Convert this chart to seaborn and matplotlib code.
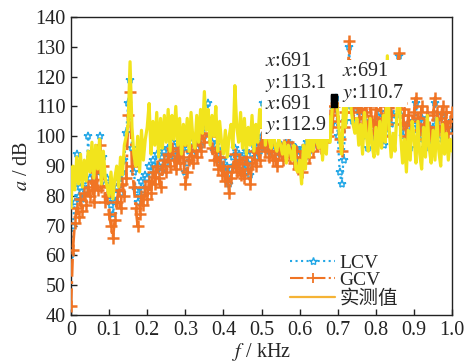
import numpy as np
import pandas as pd
import matplotlib
matplotlib.use("Agg")
import matplotlib.pyplot as plt
from matplotlib.lines import Line2D
import seaborn as sns

# Frequency grid in Hz (5 Hz spacing, 0-1000 Hz)
freq_hz = list(range(0, 1001, 5))

# LCV-fitted spectrum level, dB
lcv_db = [
    60, 70, 78, 94, 80, 83, 79, 85, 82, 100,
    86, 90, 84, 92, 88, 100, 89, 93, 84, 86,
    80, 77, 74, 78, 83, 86, 81, 88, 92, 101,
    111, 119, 96, 88, 82, 78, 80, 85, 82, 87,
    86, 90, 87, 92, 89, 94, 90, 88, 93, 95,
    91, 96, 93, 98, 95, 92, 97, 94, 99, 96,
    88, 91, 95, 98, 94, 99, 96, 101, 97, 103,
    100, 106, 111, 103, 98, 95, 97, 92, 95, 90,
    92, 88, 90, 84, 89, 93, 96, 91, 94, 90,
    93, 89, 95, 91, 87, 94, 97, 93, 98, 95,
    100, 111, 97, 101, 95, 99, 94, 97, 93, 96,
    97, 94, 113, 96, 99, 95, 97, 93, 96, 91,
    95, 90, 96, 93, 98, 95, 100, 97, 102, 99,
    101, 97, 103, 99, 104, 101, 106, 104, 109, 113,
    100, 88, 84, 92, 105, 113, 130, 110, 105, 109,
    110, 103, 107, 100, 108, 104, 96, 105, 101, 98,
    105, 100, 108, 103, 97, 106, 101, 109, 104, 107,
    111, 117, 127, 107, 100, 104, 97, 103, 96, 101,
    105, 111, 103, 99, 106, 101, 96, 104, 100, 97,
    103, 111, 105, 99, 102, 107, 100, 104, 98, 102, 105,
]

# GCV-fitted spectrum level, dB
gcv_db = [
    43, 62, 71, 76, 73, 79, 75, 81, 77, 83,
    80, 85, 78, 88, 82, 97, 83, 90, 78, 80,
    74, 70, 66, 72, 78, 82, 76, 84, 80, 86,
    107, 115, 90, 83, 76, 70, 74, 80, 77, 83,
    79, 85, 81, 88, 84, 90, 86, 83, 89, 92,
    88, 94, 90, 96, 92, 89, 95, 91, 97, 93,
    84, 88, 92, 95, 91, 97, 93, 99, 95, 101,
    98, 104, 106, 100, 96, 92, 95, 89, 93, 87,
    90, 85, 88, 81, 86, 90, 94, 88, 92, 87,
    91, 86, 93, 89, 84, 91, 95, 90, 96, 92,
    98, 103, 95, 99, 93, 97, 92, 95, 90, 94,
    96, 92, 97, 94, 98, 93, 96, 91, 95, 89,
    93, 88, 95, 91, 97, 93, 99, 95, 101, 97,
    100, 96, 102, 98, 104, 100, 107, 103, 110, 111,
    105, 99, 95, 103, 108, 115, 132, 112, 108, 111,
    113, 106, 111, 104, 113, 108, 102, 110, 105, 101,
    109, 103, 112, 106, 100, 110, 104, 113, 107, 111,
    114, 120, 128, 111, 104, 109, 100, 107, 99, 105,
    108, 113, 106, 102, 110, 104, 99, 108, 103, 100,
    107, 113, 108, 102, 106, 110, 103, 108, 101, 105, 108,
]

# Measured spectrum level, dB
measured_db = [
    76, 90, 82, 93, 84, 94, 83, 92, 85, 95,
    88, 98, 86, 97, 89, 99, 84, 95, 86, 83,
    80, 88, 79, 86, 90, 83, 93, 87, 97, 100,
    104, 125, 103, 94, 90, 100, 88, 102, 92, 99,
    103, 111, 94, 105, 97, 108, 93, 106, 96, 107,
    98, 109, 95, 107, 99, 110, 97, 106, 94, 104,
    97, 106, 95, 108, 99, 96, 107, 98, 109, 101,
    115, 102, 109, 97, 107, 100, 110, 95, 105, 98,
    94, 102, 93, 100, 104, 96, 117, 103, 98, 108,
    96, 106, 94, 103, 97, 107, 95, 104, 98, 109,
    103, 111, 97, 107, 99, 96, 104, 97, 95, 99,
    97, 94, 98, 91, 97, 95, 92, 97, 89, 88,
    92, 84, 97, 89, 99, 93, 101, 95, 104, 98,
    96, 105, 92, 102, 94, 107, 98, 109, 112, 113,
    108, 99, 94, 110, 103, 112, 125, 109, 104, 101,
    106, 97, 104, 94, 108, 100, 95, 106, 97, 93,
    103, 94, 105, 96, 107, 98, 127, 102, 93, 101,
    95, 108, 121, 100, 91, 99, 88, 102, 92, 105,
    100, 91, 105, 94, 89, 103, 93, 107, 96, 91,
    102, 92, 106, 95, 90, 104, 94, 101, 92, 99, 95,
]

# Data-tip readouts at 691 Hz
tip_x_hz = [691, 691, 691]
tip_y_db = [113.1, 112.9, 110.7]

x_ticks = [0, 0.1, 0.2, 0.3, 0.4, 0.5, 0.6, 0.7, 0.8, 0.9, 1.0]
x_tick_labels = ["0", "0.1", "0.2", "0.3", "0.4", "0.5", "0.6", "0.7", "0.8", "0.9", "1.0"]
y_ticks = [40, 50, 60, 70, 80, 90, 100, 110, 120, 130, 140]

C_LCV = "#22A7E6"
C_GCV = "#F07424"
C_MEAS = "#F2E41C"
C_MEAS_LEG = "#F5B335"

sns.set_style("ticks")
plt.rcParams["font.family"] = ["Liberation Serif", "Noto Sans CJK SC"]
plt.rcParams["mathtext.fontset"] = "stix"

df = pd.DataFrame({
    "f_khz": np.array(freq_hz) / 1000.0,
    "LCV": lcv_db,
    "GCV": gcv_db,
    "meas": measured_db,
})

fig = plt.figure(figsize=(4.7, 3.63), dpi=100)
ax = fig.add_axes([0.151, 0.132, 0.811, 0.821])

sns.lineplot(data=df, x="f_khz", y="LCV", ax=ax, estimator=None, color=C_LCV,
             linestyle=":", linewidth=1.6, marker="*", markersize=6,
             markerfacecolor="white", markeredgecolor=C_LCV, markeredgewidth=1.1,
             zorder=2)
sns.lineplot(data=df, x="f_khz", y="GCV", ax=ax, estimator=None, color=C_GCV,
             linestyle="-.", linewidth=2.0, marker="+", markersize=9,
             markeredgecolor=C_GCV, markeredgewidth=1.8, zorder=3)
sns.lineplot(data=df, x="f_khz", y="meas", ax=ax, estimator=None, color=C_MEAS,
             linewidth=2.3, zorder=4)

# Data tips
tip_x = np.array(tip_x_hz) / 1000.0
ax.scatter(tip_x, tip_y_db, marker="s", s=16, color="black", zorder=8)

box = dict(boxstyle="square,pad=0.15", fc="white", ec="none")
fs_tip = 14.5
ax.text(0.508, 121.2, "$x$:%d\n$y$:%.1f" % (tip_x_hz[0], tip_y_db[0]),
        fontsize=fs_tip, va="center", ha="left", linespacing=1.05, bbox=box, zorder=7)
ax.text(0.508, 107.0, "$x$:%d\n$y$:%.1f" % (tip_x_hz[1], tip_y_db[1]),
        fontsize=fs_tip, va="center", ha="left", linespacing=1.05, bbox=box, zorder=7)
ax.text(0.712, 118.0, "$x$:%d\n$y$:%.1f" % (tip_x_hz[2], tip_y_db[2]),
        fontsize=fs_tip, va="center", ha="left", linespacing=1.05, bbox=box, zorder=7)

ax.set_xlim(0, 1.0)
ax.set_ylim(40, 140)
ax.set_xticks(x_ticks)
ax.set_xticklabels(x_tick_labels)
ax.set_yticks(y_ticks)
ax.tick_params(direction="in", length=4, width=1, labelsize=14.5, colors="#222222",
               top=False, right=False, pad=4)
for s in ax.spines.values():
    s.set_linewidth(1.0)
    s.set_color("#222222")

ax.set_xlabel("$f$ / kHz", fontsize=14.5, labelpad=1)
ax.set_ylabel("$a$ / dB", fontsize=14.5, labelpad=2)

handles = [
    Line2D([], [], color=C_LCV, linestyle=":", linewidth=1.5, marker="*",
           markersize=6, markerfacecolor="white", markeredgecolor=C_LCV),
    Line2D([], [], color=C_GCV, linestyle="-.", linewidth=1.5, marker="+",
           markersize=7, markeredgewidth=1.3),
    Line2D([], [], color=C_MEAS_LEG, linestyle="-", linewidth=1.6),
]
ax.legend(handles, ["LCV", "GCV", "实测值"], loc="upper left",
          bbox_to_anchor=(0.575, 0.205), frameon=False, fontsize=14,
          handlelength=2.3, handletextpad=0.25, labelspacing=0.0,
          borderpad=0, borderaxespad=0)

fig.savefig("out.png", dpi=100)
